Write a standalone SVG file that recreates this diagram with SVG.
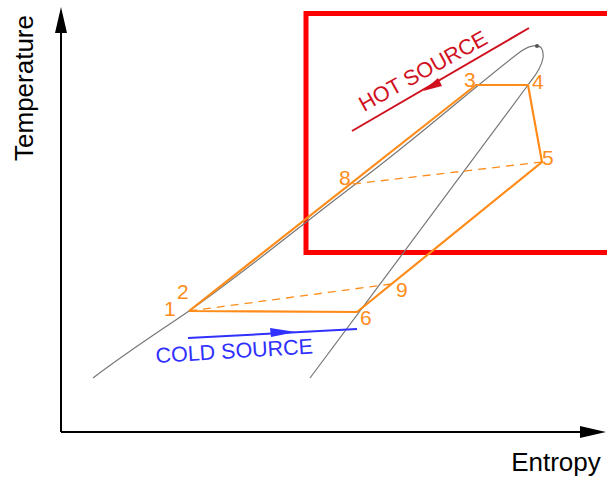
<svg xmlns="http://www.w3.org/2000/svg" width="607" height="477" viewBox="0 0 607 477">
<defs>
<style>
text{font-family:"Liberation Sans",Arial,sans-serif}
.ax{stroke:#000;stroke-width:2;fill:none}
.cyc{stroke:#ff8c1a;stroke-width:2.2;fill:none;stroke-linejoin:miter}
.dash{stroke:#ff8c1a;stroke-width:1.3;fill:none;stroke-dasharray:8,6}
.num{fill:#ff8c1a;font-size:21px}
.dome{stroke:#777;stroke-width:1.2;fill:none}
</style>
</defs>
<rect width="607" height="477" fill="#fff"/>
<g id="axes">
<line class="ax" x1="61" y1="432" x2="61" y2="30"/>
<polygon points="61,7 55,33 67,33" fill="#000"/>
<line class="ax" x1="61" y1="432" x2="582" y2="432"/>
<polygon points="606,432 580,426 580,438" fill="#000"/>
<text x="33" y="88" font-size="26" text-anchor="middle" transform="rotate(-90 33 88)" fill="#000">Temperature</text>
<text x="556" y="471" font-size="26" text-anchor="middle" fill="#000">Entropy</text>
</g>
<g id="hot-region">
<rect x="306" y="13.5" width="310" height="239" fill="none" stroke="#ff0000" stroke-width="5"/>
</g>
<g id="dome">
<path class="dome" d="M93,378 C130,350 160,331 189,311 C250,268 300,226 353,186 C420,136 480,82 520,52 C530,45 545,40 543,58 C541,70 533,78 528,85 C470,162 380,285 310,378"/>
<circle cx="537" cy="46" r="2" fill="#555"/>
</g>
<g id="connectors">
<polyline class="cyc" points="189,311 476,85 528,85 542,162 357,312 189,311"/>
<line class="dash" x1="189" y1="311" x2="391" y2="284"/>
<line class="dash" x1="353" y1="184" x2="542" y2="162"/>
</g>
<g id="labels">
<text class="num" x="164" y="316">1</text>
<text class="num" x="177" y="299">2</text>
<text class="num" x="464" y="87">3</text>
<text class="num" x="532" y="89">4</text>
<text class="num" x="542" y="165">5</text>
<text class="num" x="360" y="325">6</text>
<text class="num" x="339" y="185">8</text>
<text class="num" x="396" y="297">9</text>
</g>
<g id="hot-source">
<line x1="352" y1="131" x2="529" y2="28" stroke="#d0101e" stroke-width="2"/>
<polygon points="423,91 438,78 442,86" fill="#d0101e"/>
<text x="364" y="112" font-size="21.5" fill="#d0101e" transform="rotate(-29 364 112)">HOT SOURCE</text>
</g>
<g id="cold-source">
<line x1="188" y1="338" x2="357" y2="329" stroke="#3030ff" stroke-width="2"/>
<polygon points="296,332 270,328 271,337" fill="#3030ff"/>
<text x="156" y="363" font-size="21.5" fill="#3030ff" transform="rotate(-3.5 156 363)">COLD SOURCE</text>
</g>
</svg>
